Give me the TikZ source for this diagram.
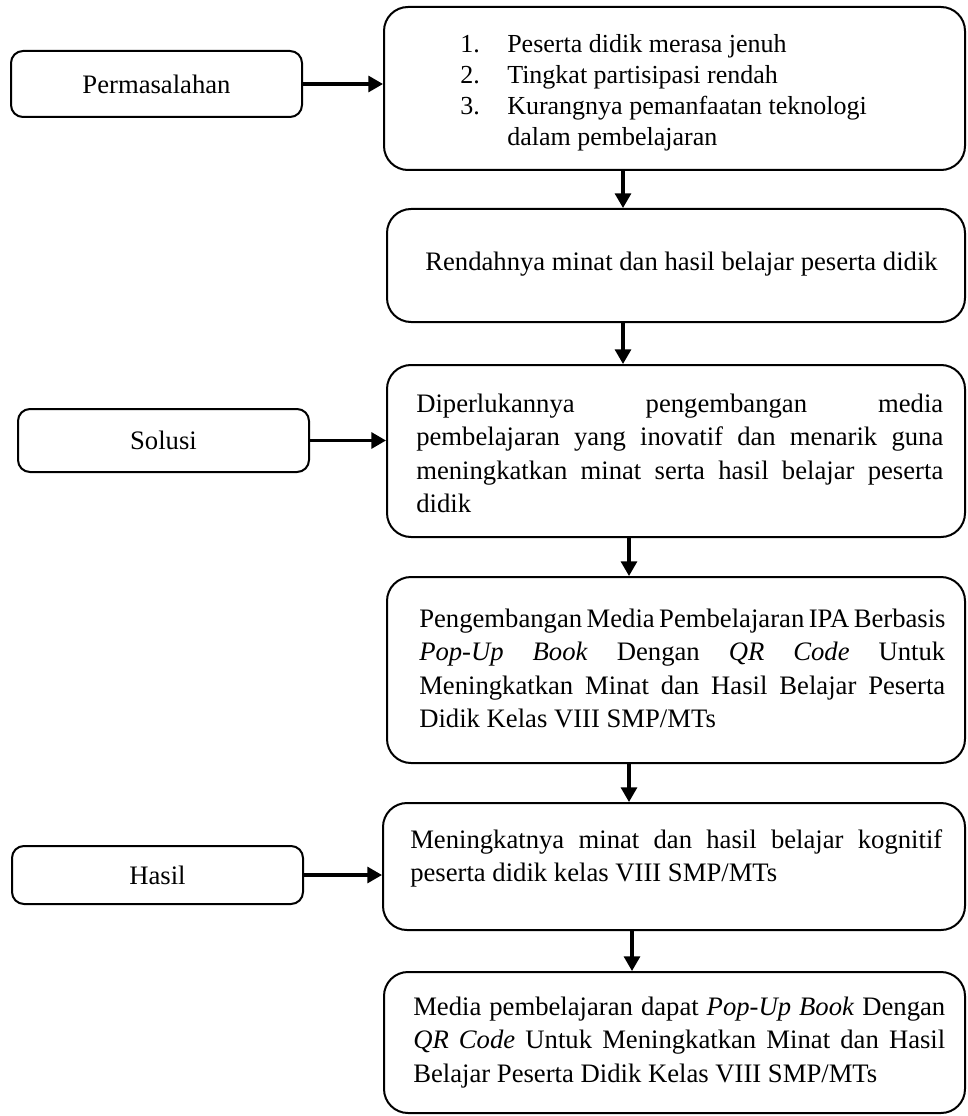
\documentclass[tikz,border=0pt]{standalone}
\usepackage{fontspec}
\setmainfont{Liberation Serif}
\usetikzlibrary{arrows.meta}
\tikzset{
  bigbox/.style={draw, line width=1.5pt, rounded corners=18pt, inner sep=0pt},
  smallbox/.style={draw, line width=1.5pt, rounded corners=9pt, inner sep=0pt,
    minimum width=218.25pt, font=\fontsize{20}{25}\selectfont},
  txt/.style={inner sep=0pt, align=left, font=\fontsize{20}{25.2}\selectfont},
  listtxt/.style={inner sep=0pt, align=left, font=\fontsize{19.5}{23.25}\selectfont},
  arr/.style={line width=2.3pt, -{Triangle[length=11pt,width=12pt]}},
}
\newcommand{\jline}[2]{\makebox[#1][s]{#2}}
\newcommand{\numlab}[1]{\makebox[35.25pt][l]{#1}}
\begin{document}
\begin{tikzpicture}[x=0.75pt,y=-0.75pt]
\useasboundingbox (0,0) rectangle (967,1116);

% boxes
\node[smallbox, minimum height=49.5pt] (perm) at (156.5,84) {Permasalahan};
\node[bigbox, minimum width=435.75pt, minimum height=122.25pt] (b1) at (674.5,88.5) {};
\node[bigbox, minimum width=433.5pt, minimum height=84.75pt] (b2) at (676,265.5) {};
\node[bigbox, minimum width=433.5pt, minimum height=129pt] (b3) at (676,451) {};
\node[smallbox, minimum height=47.25pt] (sol) at (163.5,440.5) {Solusi};
\node[bigbox, minimum width=433.5pt, minimum height=139.5pt] (b4) at (676,670) {};
\node[bigbox, minimum width=436.5pt, minimum height=95.25pt] (b5) at (674,866.5) {};
\node[smallbox, minimum height=43.5pt] (has) at (157.5,875) {Hasil};
\node[bigbox, minimum width=435.75pt, minimum height=105.75pt] (b6) at (674.5,1042.5) {};

% texts (base anchor = baseline of the last line)
\begin{scope}
\clip (384,7) rectangle (965,150.5);
\node[listtxt, anchor=base west] (t1) at (460,146) {%
\numlab{1.}Peserta didik merasa jenuh\\
\numlab{2.}Tingkat partisipasi rendah\\
\numlab{3.}Kurangnya pemanfaatan teknologi\\
\numlab{}dalam pembelajaran};
\end{scope}

\node[txt, anchor=base] (t2) at (681.5,270) {Rendahnya minat dan hasil belajar peserta didik};

\node[txt, anchor=base west] (t3) at (416,512.8) {%
\jline{395.25pt}{Diperlukannya pengembangan media}\\
\jline{395.25pt}{pembelajaran yang inovatif dan menarik guna}\\
\jline{395.25pt}{meningkatkan minat serta hasil belajar peserta}\\
didik};

\node[txt, anchor=base west] (t4) at (419,727.8) {%
\jline{394.5pt}{Pengembangan Media Pembelajaran IPA Berbasis}\\
\jline{394.5pt}{\textit{Pop-Up} \textit{Book} Dengan \textit{QR} \textit{Code} Untuk}\\
\jline{394.5pt}{Meningkatkan Minat dan Hasil Belajar Peserta}\\
Didik Kelas VIII SMP/MTs};

\node[txt, anchor=base west] (t5) at (410,881.6) {%
\jline{399pt}{Meningkatnya minat dan hasil belajar kognitif}\\
peserta didik kelas VIII SMP/MTs};

\node[txt, anchor=base west] (t6) at (413,1082.2) {%
\jline{399pt}{Media pembelajaran dapat \textit{Pop-Up} \textit{Book} Dengan}\\
\jline{399pt}{\textit{QR} \textit{Code} Untuk Meningkatkan Minat dan Hasil}\\
Belajar Peserta Didik Kelas VIII SMP/MTs};

% arrow columns
\coordinate (v1) at (623,0);
\coordinate (v3) at (629,0);
\coordinate (v5) at (632,0);

% connectors
\draw[arr] (perm.east) -- (perm.east -| b1.west);
\draw[arr] (sol.east) -- (sol.east -| b3.west);
\draw[arr] (has.east) -- (has.east -| b5.west);
\draw[arr] (b1.south -| v1) -- (b2.north -| v1);
\draw[arr] (b2.south -| v1) -- (b3.north -| v1);
\draw[arr] (b3.south -| v3) -- (b4.north -| v3);
\draw[arr] (b4.south -| v3) -- (b5.north -| v3);
\draw[arr] (b5.south -| v5) -- (b6.north -| v5);
\end{tikzpicture}
\end{document}
